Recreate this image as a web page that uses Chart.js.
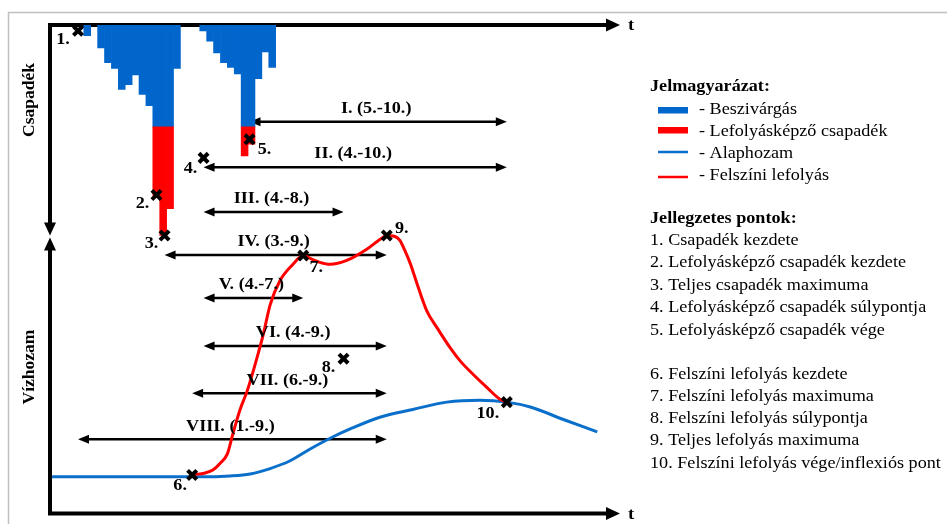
<!DOCTYPE html>
<html><head><meta charset="utf-8">
<script src="https://cdn.jsdelivr.net/npm/chart.js@4/dist/chart.umd.min.js"></script>
<style>html,body{margin:0;padding:0;background:#fff}#wrap{width:947px;height:524px;position:relative}</style>
</head><body><div id="wrap"><canvas id="c" width="947" height="524"></canvas></div>
<script>
// ---- data (time unit = one rainfall interval) ----
const rainTime = [5.4, 6.4, 7.4, 8.4, 9.4, 10.4, 11.4, 12.4, 13.4, 14.4, 15.4, 16.4, 17.4, 18.4,
                  22.2, 23.2, 24.2, 25.2, 26.2, 27.2, 28.2, 29.2, 30.2, 31.2, 32.2];
const infiltration = [2.2, null, 4.7, 7.7, 8.9, 13.2, 12.2, 10.2, 14.2, 16.5, 20.7, 20.7, 20.7, 8.9,
                      1.2, 3.3, 5.7, 7.7, 8.7, 10.0, 20.7, 20.7, 11.0, 5.5, 8.7];
const effectiveRain = [null, null, null, null, null, null, null, null, null, null, 14.2, 22.4, 16.9, null,
                       null, null, null, null, null, null, 6.1, 3.7, null, null, null];

const baseTime = [0.3, 7.2, 14.5, 21.7, 26.1, 29.0, 31.9, 34.8, 37.7, 40.6, 43.5, 47.8, 52.6, 57.5, 62.3, 66.2, 69.6, 74.3, 79.3];
const baseFlow = [7.5, 7.5, 7.5, 7.5, 7.7, 8.1, 9.2, 10.8, 13.2, 15.4, 17.3, 19.7, 21.3, 22.8, 23.2, 22.8, 21.8, 19.3, 16.7];

const surfTime = [20.6, 22.5, 23.6, 24.6, 25.7, 26.5, 27.5, 28.6, 30.0, 30.9, 31.9, 33.3, 35.2, 36.7, 38.0, 39.1, 40.6,
                  43.0, 45.9, 47.8, 48.8, 50.0, 50.7, 51.4, 52.2, 53.2, 54.6, 56.1, 58.0, 59.4, 61.3, 63.3, 65.2, 66.2];
const surfFlow = [7.9, 8.3, 8.9, 10.2, 12.2, 16.3, 21.1, 25.2, 31.9, 36.6, 42.7, 47.6, 51.0, 52.8, 52.0, 51.4, 51.0,
                  51.8, 54.1, 56.1, 56.9, 56.7, 55.9, 53.9, 51.2, 47.0, 41.5, 38.0, 33.9, 31.3, 28.5, 25.8, 23.4, 22.8];

// characteristic points: 1-5 on the precipitation axis, 6-10 on the discharge axis
const pointNames = ['1.', '2.', '3.', '4.', '5.', '6.', '7.', '8.', '9.', '10.'];
const pointTime  = [4.06, 15.43, 16.6, 22.25, 28.91, 20.6, 36.7, 42.54, 48.8, 66.2];
const pointValue = [1.2, 34.8, 43.1, 27.2, 23.4, 7.9, 52.8, 31.7, 56.9, 22.8];

// time intervals between characteristic points
const intervalNames = ['I. (5.-10.)', 'II. (4.-10.)', 'III. (4.-8.)', 'IV. (3.-9.)', 'V. (4.-7.)', 'VI. (4.-9.)', 'VII. (6.-9.)', 'VIII. (1.-9.)'];
const intervalFrom  = [5, 4, 4, 3, 4, 4, 6, 1];
const intervalTo    = [10, 10, 8, 9, 7, 9, 9, 9];
const intervalLevel = [80.2, 70.9, 61.7, 52.9, 44.1, 34.3, 24.6, 15.2];

const legendLabels = ['- Beszivárgás', '- Lefolyásképző csapadék', '- Alaphozam', '- Felszíni lefolyás'];
const pointDescriptions = [
  '1. Csapadék kezdete',
  '2. Lefolyásképző csapadék kezdete',
  '3. Teljes csapadék maximuma',
  '4. Lefolyásképző csapadék súlypontja',
  '5. Lefolyásképző csapadék vége',
  '6. Felszíni lefolyás kezdete',
  '7. Felszíni lefolyás maximuma',
  '8. Felszíni lefolyás súlypontja',
  '9. Teljes lefolyás maximuma',
  '10. Felszíni lefolyás vége/inflexiós pont'
];
const axisSplit = 43.3; // precipitation-axis value where the two vertical axes meet

// ---- styles ----
const BLUE = '#0066CC', RED = '#FF0000', LBLUE = '#0A6FCB';
const SERIF = "'Liberation Serif','DejaVu Serif',serif";
const SX = 1.1;

function txt(ctx, s, x, y, font, align) {
  ctx.save();
  ctx.font = font; ctx.textAlign = align || 'left'; ctx.textBaseline = 'middle'; ctx.fillStyle = '#000';
  ctx.translate(x, y); ctx.scale(SX, 1); ctx.fillText(s, 0, 0);
  ctx.restore();
}
function head(ctx, tx, ty, dx, dy, len, half) {
  ctx.beginPath();
  ctx.moveTo(tx, ty);
  ctx.lineTo(tx - dx * len - dy * half, ty - dy * len + dx * half);
  ctx.lineTo(tx - dx * len + dy * half, ty - dy * len - dx * half);
  ctx.closePath(); ctx.fill();
}

const deco = {
  id: 'deco',
  beforeDatasetsDraw(chart) {
    const ctx = chart.ctx, a = chart.chartArea, sx = chart.scales.x, sy = chart.scales.y, sp = chart.scales.yP;
    ctx.save();
    // outer frame
    ctx.strokeStyle = '#bfbfbf'; ctx.lineWidth = 1.5;
    ctx.beginPath(); ctx.moveTo(8.5, 524); ctx.lineTo(8.5, 12.5); ctx.lineTo(947, 12.5); ctx.stroke();
    // axes
    ctx.strokeStyle = '#000'; ctx.fillStyle = '#000'; ctx.lineWidth = 4; ctx.lineCap = 'butt';
    const split = sp.getPixelForValue(axisSplit);
    ctx.beginPath();
    ctx.moveTo(a.left, split - 12); ctx.lineTo(a.left, a.top); ctx.lineTo(a.right - 12, a.top);
    ctx.moveTo(a.left, split + 12); ctx.lineTo(a.left, a.bottom); ctx.lineTo(a.right - 12, a.bottom);
    ctx.stroke();
    head(ctx, a.right, a.top, 1, 0, 14, 6.5);
    head(ctx, a.right, a.bottom, 1, 0, 14, 6.5);
    head(ctx, a.left, split - 1, 0, 1, 13, 6);
    head(ctx, a.left, split + 1, 0, -1, 13, 6);
    // interval arrows
    ctx.lineWidth = 2.5;
    for (let i = 0; i < intervalNames.length; i++) {
      const x1 = sx.getPixelForValue(pointTime[intervalFrom[i] - 1]);
      const x2 = sx.getPixelForValue(pointTime[intervalTo[i] - 1]);
      const y = sy.getPixelForValue(intervalLevel[i]);
      ctx.beginPath(); ctx.moveTo(x1 + 8, y); ctx.lineTo(x2 - 8, y); ctx.stroke();
      head(ctx, x1, y, -1, 0, 11, 4.5);
      head(ctx, x2, y, 1, 0, 11, 4.5);
    }
    ctx.restore();
  },
  afterDatasetsDraw(chart) {
    const ctx = chart.ctx, a = chart.chartArea, sx = chart.scales.x, sy = chart.scales.y;
    const bold = 'bold 16.5px ' + SERIF, reg = '16.5px ' + SERIF;
    // interval labels
    for (let i = 0; i < intervalNames.length; i++) {
      const x1 = sx.getPixelForValue(pointTime[intervalFrom[i] - 1]);
      const x2 = sx.getPixelForValue(pointTime[intervalTo[i] - 1]);
      const y = sy.getPixelForValue(intervalLevel[i]);
      txt(ctx, intervalNames[i], (x1 + x2) / 2 - 2, y - 13, bold, 'center');
    }
    // point labels
    const offs = [[-15, 9], [-14, 9], [-13, 8], [-13, 11], [15, 10], [-12, 11], [13, 12], [-15, 9], [15, -7], [-19, 12]];
    for (let i = 0; i < pointNames.length; i++) {
      const s = i < 5 ? chart.scales.yP : sy;
      const px = sx.getPixelForValue(pointTime[i]), py = s.getPixelForValue(pointValue[i]);
      txt(ctx, pointNames[i], px + offs[i][0], py + offs[i][1], bold, 'center');
    }
    // axis titles
    ctx.save();
    ctx.font = 'bold 17.5px ' + SERIF; ctx.fillStyle = '#000'; ctx.textAlign = 'center'; ctx.textBaseline = 'alphabetic';
    ctx.translate(34, 100); ctx.rotate(-Math.PI / 2); ctx.fillText('Csapadék', 0, 0); ctx.restore();
    ctx.save();
    ctx.font = 'bold 17.5px ' + SERIF; ctx.fillStyle = '#000'; ctx.textAlign = 'center'; ctx.textBaseline = 'alphabetic';
    ctx.translate(33.5, 367); ctx.rotate(-Math.PI / 2); ctx.fillText('Vízhozam', 0, 0); ctx.restore();
    txt(ctx, 't', a.right + 8, a.top + 1, 'bold 17px ' + SERIF, 'left');
    txt(ctx, 't', a.right + 8, a.bottom + 1, 'bold 17px ' + SERIF, 'left');
    // legend
    const lx = 650;
    txt(ctx, 'Jelmagyarázat:', lx, 87, bold);
    ctx.fillStyle = BLUE; ctx.fillRect(658, 107, 30, 6.5);
    ctx.fillStyle = RED; ctx.fillRect(658, 127, 30, 6.5);
    ctx.lineWidth = 2.5;
    ctx.strokeStyle = LBLUE; ctx.beginPath(); ctx.moveTo(658, 152); ctx.lineTo(688, 152); ctx.stroke();
    ctx.strokeStyle = RED; ctx.beginPath(); ctx.moveTo(658, 177); ctx.lineTo(688, 177); ctx.stroke();
    const ly = [110, 132, 154, 176];
    for (let i = 0; i < legendLabels.length; i++) txt(ctx, legendLabels[i], 699, ly[i], reg);
    txt(ctx, 'Jellegzetes pontok:', lx, 219, bold);
    const py = [241, 263, 285.5, 308, 330.5, 374.5, 397, 419, 441, 463.5];
    for (let i = 0; i < pointDescriptions.length; i++) txt(ctx, pointDescriptions[i], lx, py[i], reg);
  }
};

const rainPts = (vals) => rainTime.map((t, i) => ({ x: t, y: vals[i] }));
const xy = (ts, vs) => ts.map((t, i) => ({ x: t, y: vs[i] }));

new Chart(document.getElementById('c'), {
  type: 'bar',
  data: {
    datasets: [
      { label: 'Beszivárgás', data: rainPts(infiltration), backgroundColor: BLUE, yAxisID: 'yP', stack: 'p',
        barPercentage: 1, categoryPercentage: 1, borderWidth: 0, order: 4 },
      { label: 'Lefolyásképző csapadék', data: rainPts(effectiveRain), backgroundColor: RED, yAxisID: 'yP', stack: 'p',
        barPercentage: 1, categoryPercentage: 1, borderWidth: 0, order: 5 },
      { type: 'line', label: 'Alaphozam', data: xy(baseTime, baseFlow), borderColor: LBLUE, borderWidth: 3,
        pointRadius: 0, cubicInterpolationMode: 'monotone', yAxisID: 'y', order: 3 },
      { type: 'line', label: 'Felszíni lefolyás', data: xy(surfTime, surfFlow), borderColor: RED, borderWidth: 3,
        pointRadius: 0, cubicInterpolationMode: 'monotone', yAxisID: 'y', order: 2 },
      { type: 'line', label: 'Pontok P', data: xy(pointTime.slice(0, 5), pointValue.slice(0, 5)), showLine: false,
        pointStyle: 'crossRot', pointRadius: 6.5, pointBorderWidth: 4, borderColor: '#000', pointBorderColor: '#000',
        yAxisID: 'yP', clip: false, order: 1 },
      { type: 'line', label: 'Pontok Q', data: xy(pointTime.slice(5), pointValue.slice(5)), showLine: false,
        pointStyle: 'crossRot', pointRadius: 6.5, pointBorderWidth: 4, borderColor: '#000', pointBorderColor: '#000',
        yAxisID: 'y', clip: false, order: 1 }
    ]
  },
  options: {
    responsive: false, animation: false, devicePixelRatio: 1,
    layout: { padding: { left: 50, right: 327, top: 25, bottom: 7 } },
    plugins: { legend: { display: false }, tooltip: { enabled: false } },
    scales: {
      x: { type: 'linear', min: 0, max: 82.6, display: false, stacked: true, offset: false },
      yP: { type: 'linear', min: 0, max: 100, reverse: true, display: false, stacked: true },
      y: { type: 'linear', min: 0, max: 100, display: false }
    }
  },
  plugins: [deco]
});
</script>
</body></html>
